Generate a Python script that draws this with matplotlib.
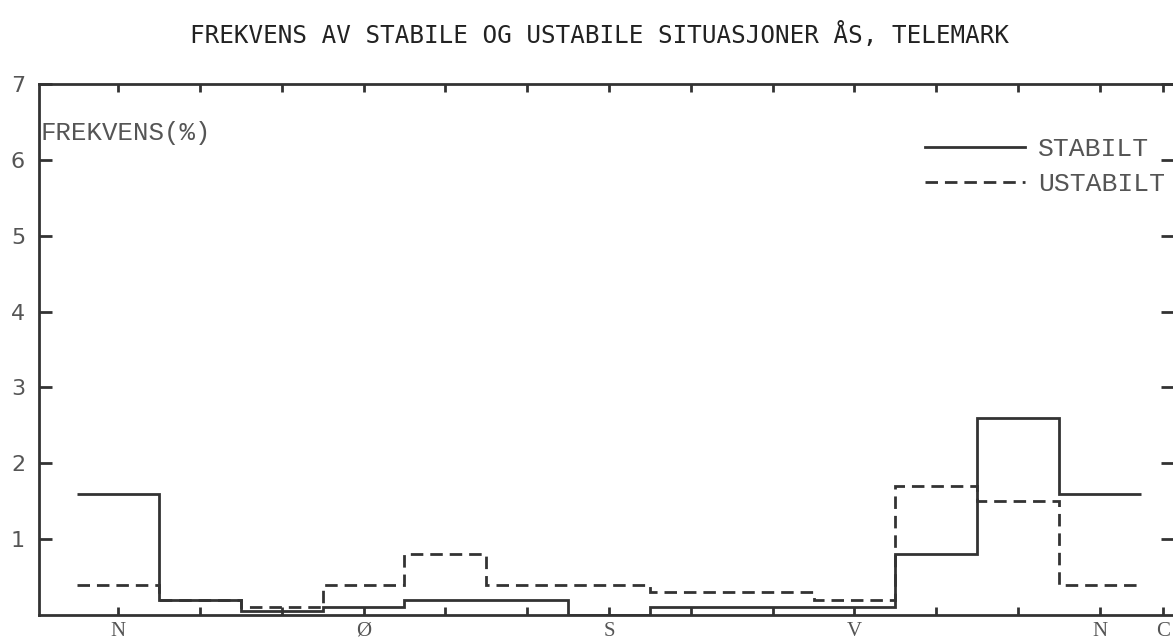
import numpy as np
import matplotlib.pyplot as plt
import matplotlib as mpl

mpl.rcParams['font.family'] = 'DejaVu Sans'

# Wind direction sectors (degrees), one bin every 30 deg, N repeated at 360
directions = [0, 30, 60, 90, 120, 150, 180, 210, 240, 270, 300, 330, 360]
stabilt = [1.6, 0.2, 0.05, 0.1, 0.2, 0.2, 0.0, 0.1, 0.1, 0.1, 0.8, 2.6, 1.6]
ustabilt = [0.4, 0.2, 0.1, 0.4, 0.8, 0.4, 0.4, 0.3, 0.3, 0.2, 1.7, 1.5, 0.4]

tick_pos = directions + [383]
tick_labels = ['N', '', '', '\u00d8', '', '', 'S', '', '', 'V', '', '', 'N', 'C']
y_ticks = [1, 2, 3, 4, 5, 6, 7]

line_col = '#333333'
text_col = '#555555'

fig = plt.figure(figsize=(11.73, 6.39), dpi=100)
ax = fig.add_axes([39 / 1173, 24 / 639, 1134 / 1173, 531 / 639])

edges = np.array(directions + [directions[-1] + 30]) - 15
ax.stairs(stabilt, edges, baseline=None, color=line_col, linewidth=2.0,
          label='STABILT')
ax.stairs(ustabilt, edges, baseline=None, color=line_col, linewidth=2.0,
          linestyle=(0, (4.5, 2.5)), label='USTABILT')

ax.set_xlim(-29, 386.8)
ax.set_ylim(0, 7)

ax.set_xticks(tick_pos)
ax.set_xticklabels(tick_labels, family='Liberation Serif', fontsize=15,
                   color=text_col)
ax.set_yticks(y_ticks)
ax.set_yticklabels([str(v) for v in y_ticks], fontsize=16, color=text_col)

ax.tick_params(axis='x', direction='in', length=6, width=2, color=line_col,
               top=True, pad=5)
ax.tick_params(axis='y', direction='in', length=9, width=2, color=line_col,
               right=True, pad=10)

for side in ['left', 'bottom', 'top']:
    ax.spines[side].set_color(line_col)
    ax.spines[side].set_linewidth(2)
ax.spines['right'].set_visible(False)

ax.text(0.001, 0.908, 'FREKVENS(%)', transform=ax.transAxes,
        family='Liberation Mono', fontsize=18.5, color=text_col,
        ha='left', va='center')

ax.legend(loc='upper left', bbox_to_anchor=(0.781, 0.9), frameon=False,
          prop={'family': 'Liberation Mono', 'size': 19},
          handlelength=3.8, handletextpad=0.5, labelspacing=0.42,
          borderpad=0, borderaxespad=0, labelcolor=text_col)

fig.text(0.511, 0.945, 'FREKVENS AV STABILE OG USTABILE SITUASJONER \u00c5S, TELEMARK',
         ha='center', va='center', fontsize=17.5, color='#222222',
         family='DejaVu Sans Mono')

fig.savefig('out.png', dpi=100)
